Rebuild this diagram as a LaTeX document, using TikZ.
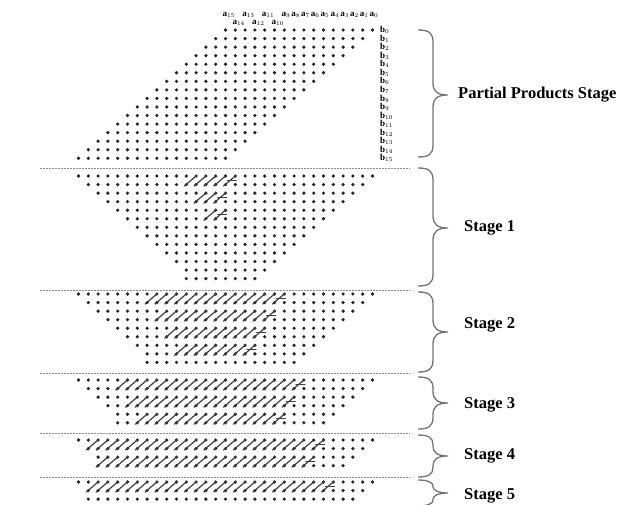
\documentclass[tikz,border=0pt]{standalone}
\usepackage{fontspec}
\setmainfont{Liberation Serif}
\begin{document}
\begin{tikzpicture}
[
    x=1pt, y=-1pt,
    dot/.style={fill=black!85},
    adder/.style={draw=black!75, line width=1.2pt, line cap=round},
    sepline/.style={draw=black!45, line width=1pt, dash pattern=on 2pt off 1pt},
    bracepath/.style={draw=black!55, line width=1.3pt},
    stagelabel/.style={anchor=west, inner sep=0pt, font=\fontsize{16.5}{18}\selectfont\bfseries},
    bitlabel/.style={anchor=west, inner sep=0pt, font=\fontsize{9}{9}\selectfont\bfseries}
]
    \useasboundingbox (0,0) rectangle (619,504);
    \clip (0,0) rectangle (619,504);
    % partial products with operand bits
    \foreach \r in {0,...,15} {
        \foreach \k in {0,...,15}
            \fill[dot] ({78.5+9.8*(15-\r+\k)},{30+8.55*\r}) circle (1.8);
        \node[bitlabel] (b\r) at (380,{30+8.55*\r}) {b$_{\r}$};
    }
    \foreach \k in {0,...,15} {
        \pgfmathtruncatemacro\ai{15-\k}
        \pgfmathsetmacro\ay{(\k<6 && isodd(\k)) ? 23 : 15}
        \node[bitlabel] (a\ai) at ({75.5+9.8*(15+\k)},\ay) {a$_{\ai}$};
    }
    % reduction stages
    \foreach \ytop/\h in {176/13,294/9,380/6,440/4,482/3} {
        \pgfmathtruncatemacro\lastrow{\h-1}
        \foreach \r in {0,...,\lastrow} {
            \pgfmathtruncatemacro\cfrom{\r==\lastrow ? \r-1 : \r}
            \pgfmathtruncatemacro\cto{30-\r}
            \foreach \c in {\cfrom,...,\cto}
                \fill[dot] ({78.5+9.8*\c},{\ytop+8.55*\r}) circle (1.8);
        }
    }
    \foreach \ytop/\pr/\cfrom/\cto in {176/0/11/15,176/1/12/14,176/2/13/14,
        294/0/7/20,294/1/8/19,294/2/9/18,294/3/10/17,
        380/0/4/22,380/1/5/21,380/2/6/20,
        440/0/1/24,440/1/2/23,
        482/0/1/25} {
        \pgfmathsetmacro\yup{\ytop+17.1*\pr}
        \pgfmathsetmacro\ylo{\yup+8.55}
        \foreach \c in {\cfrom,...,\cto}
            \draw[adder] ({76.5+9.8*\c},{\ylo+1.5}) -- ({79+9.8*(\c+1)},{\yup-0.5});
        \draw[adder] ({78.5+9.8*(\cto+0.5)-3},{\yup+4.3}) -- ++(9,0);
    }
    \foreach \y in {168,290,373,433,477}
        \draw[sepline] (40,\y) -- (410,\y);
    % braces and labels
    \foreach \ya/\yb/\tip/\ly/\lx/\nm/\txt in {30/157/95/95/458/pp/Partial Products Stage,
        168/286/228/228/464/s1/Stage 1,
        292/372/332/325/464/s2/Stage 2,
        377/429/403/405/464/s3/Stage 3,
        435/477/456/456/464/s4/Stage 4,
        480/506/493/496/464/s5/Stage 5} {
        \pgfmathsetmacro\cu{min(12,(\tip-\ya)/2.2)}
        \draw[bracepath] (418,\ya) .. controls (429,\ya) and (433,{\ya+3}) .. (433,{\ya+\cu})
            -- (433,{\tip-\cu}) .. controls (433,{\tip-3}) and (438,\tip) .. (448,\tip)
            .. controls (438,\tip) and (433,{\tip+3}) .. (433,{\tip+\cu})
            -- (433,{\yb-\cu}) .. controls (433,{\yb-3}) and (429,\yb) .. (418,\yb);
        \node[stagelabel] (\nm) at (\lx,\ly) {\txt};
    }
\end{tikzpicture}
\end{document}
